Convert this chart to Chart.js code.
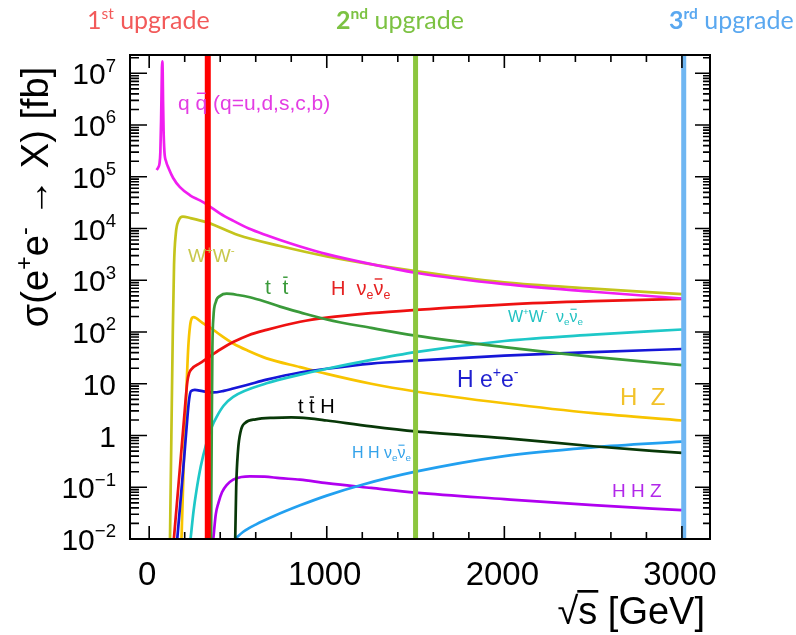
<!DOCTYPE html>
<html>
<head>
<meta charset="utf-8">
<script src="https://cdn.jsdelivr.net/npm/chart.js@4.4.1/dist/chart.umd.min.js"></script>
<style>
  html, body { margin: 0; padding: 0; background: #fff; }
  canvas { display: block; }
</style>
</head>
<body>
<canvas id="xsec" width="796" height="635"></canvas>
<script>
// cross sections sigma(e+e- -> X) in fb against sqrt(s) in GeV
const qqbar = [[42,1.35e5],[50,1.5e5],[58,1.8e5],[63,3e5],[67,1.2e6],[70,5e6],[72,1.3e7],[74,1.7e7],[76,1.1e7],[78,3e6],[81,8e5],[86,3e5],[95,2e5],[110,1.45e5],[135,9.5e4],[173,6.3e4],[230,4.4e4],[286,3.5e4],[330,2.85e4],[400,1.95e4],[472,1.42e4],[561,1.0e4],[661,7.4e3],[737,6.0e3],[850,4.5e3],[1000,3.2e3],[1250,2.05e3],[1500,1.4e3],[2000,840],[2500,600],[3000,445]];
const wwPair = [[116,0.005],[125,1],[133,100],[140,2e3],[150,8e3],[165,1.4e4],[190,1.7e4],[230,1.6e4],[330,1.3e4],[500,7.5e3],[737,4.6e3],[1000,2.9e3],[1500,1.5e3],[2000,910],[2500,690],[3000,540]];
const ttbar = [[348,0.005],[352,1],[356,50],[362,200],[375,380],[400,500],[436,550],[500,520],[567,470],[650,390],[737,310],[850,240],[1000,175],[1250,120],[1500,85],[2000,51],[2500,33],[3000,23]];
const hNuNu = [[139,0.01],[160,0.07],[180,0.45],[200,3],[215,11],[225,16],[240,19.5],[286,25],[342,34],[400,46],[473,64],[560,87],[661,110],[850,158],[1000,190],[1250,232],[1500,268],[2000,340],[2500,395],[3000,435]];
const wwNuNu = [[233,0.01],[250,0.035],[267,0.09],[290,0.25],[323,0.72],[350,1.4],[380,2.3],[420,3.8],[473,5.6],[661,10.2],[850,15],[1000,19.5],[1250,29],[1500,41],[2000,67],[2500,89],[3000,112]];
const hEE = [[158,0.01],[180,0.075],[200,0.5],[215,2.2],[225,5],[235,7.2],[257,7.6],[300,7.2],[361,6.8],[420,7.3],[473,8.1],[560,9.7],[661,12],[850,16.5],[1000,19.5],[1250,24.5],[1500,28],[2000,35],[2500,41],[3000,47]];
const hZ = [[182,0.01],[195,0.3],[210,8],[220,50],[230,130],[240,185],[250,195],[265,185],[300,150],[342,123],[400,88],[473,60],[560,43],[661,31],[850,21],[1000,15.5],[1250,10],[1500,7.1],[2000,4.2],[2500,2.7],[3000,1.95]];
const ttH = [[483,0.005],[490,0.1],[500,0.5],[515,1.2],[540,1.75],[600,2.05],[700,2.2],[800,2.25],[900,2.15],[1000,1.95],[1250,1.5],[1500,1.2],[2000,0.89],[2500,0.62],[3000,0.46]];
const hhNuNu = [[483,0.01],[530,0.0138],[600,0.019],[700,0.0275],[850,0.0447],[1000,0.069],[1200,0.112],[1500,0.2],[2000,0.4],[2500,0.59],[3000,0.76]];
const hhZ = [[361,0.01],[375,0.03],[390,0.05],[410,0.08],[436,0.11],[473,0.14],[520,0.158],[567,0.163],[650,0.16],[736,0.15],[849,0.14],[1000,0.12],[1250,0.097],[1500,0.079],[2000,0.059],[2500,0.045],[3000,0.036]];

const upgradeEnergies = [330, 1500, 3010];
const xTickLabels = [0, 1000, 2000, 3000];
const yDecades = [-2, -1, 0, 1, 2, 3, 4, 5, 6, 7];

const seriesList = [
  { data: qqbar,  color: '#f01ef0' },
  { data: wwPair, color: '#c4c41c' },
  { data: ttbar,  color: '#3a9a3a' },
  { data: hNuNu,  color: '#ee1111' },
  { data: wwNuNu, color: '#1ec8c8' },
  { data: hEE,    color: '#1616d8' },
  { data: hZ,     color: '#f8c400' },
  { data: ttH,    color: '#083808' },
  { data: hhNuNu, color: '#22a0f0' },
  { data: hhZ,    color: '#b000f0' }
];
const upgradeColors = ['#ff0000', '#8cc63e', '#6fb6f2'];

// text labels: parts are [text, mode]; anchor is in data units
const curveLabels = [
  { parts: [['q '], ['q', 'bar'], [' (q=u,d,s,c,b)']], x: 162, y: 1.95e6, color: '#e33de3', size: 21 },
  { parts: [['W'], ['+', 'sup'], ['W'], ['-', 'sup']], x: 218, y: 2.26e3, color: '#c8c84c', size: 19 },
  { parts: [['t  '], ['t', 'bar']], x: 652, y: 543, color: '#3a9a3a', size: 21 },
  { parts: [['H  \u03bd'], ['e', 'sub'], ['\u03bd', 'bar'], ['e', 'sub']], x: 1024, y: 520, color: '#e52222', size: 20 },
  { parts: [['W'], ['+', 'sup'], ['W'], ['-', 'sup'], ['  \u03bd'], ['e', 'sub'], ['\u03bd', 'bar'], ['e', 'sub']], x: 2020, y: 156, color: '#22c2c2', size: 16 },
  { parts: [['H e'], ['+', 'sup'], ['e'], ['-', 'sup']], x: 1733, y: 8.7, color: '#1f1fd0', size: 23 },
  { parts: [['H  Z']], x: 2651, y: 3.9, color: '#f2c22a', size: 24 },
  { parts: [['t '], ['t', 'bar'], [' H']], x: 838, y: 2.72, color: '#000000', size: 20 },
  { parts: [['H H \u03bd'], ['e', 'sub'], ['\u03bd', 'bar'], ['e', 'sub']], x: 1142, y: 0.368, color: '#33a2ea', size: 16 },
  { parts: [['H H Z']], x: 2606, y: 0.0649, color: '#b228ea', size: 19 }
];
const upgradeLabels = [
  { parts: [['1'], ['st', 'sup'], [' upgrade']], px: 87, color: '#f25a5a' },
  { parts: [['2', 'bold'], ['nd', 'sup bold'], [' upgrade']], px: 336, color: '#7cc242' },
  { parts: [['3', 'bold'], ['rd', 'sup bold'], [' upgrade']], px: 669, color: '#5aa8f0' }
];

const FAMILY = '"Liberation Sans", Arial, sans-serif';

function partStyle(mode, size) {
  const m = (mode || '').split(' ');
  const small = m.includes('sup') || m.includes('sub');
  const s = small ? size * 0.62 : size;
  let dy = 0;
  if (m.includes('sup')) dy = -size * 0.42;
  if (m.includes('sub')) dy = size * 0.2;
  return { s, dy, bold: m.includes('bold'), bar: m.includes('bar'), root: m.includes('root') };
}

function richWidth(ctx, parts, size, family) {
  let w = 0;
  parts.forEach(p => {
    const st = partStyle(p[1], size);
    ctx.font = (st.bold ? 'bold ' : '') + st.s + 'px ' + family;
    w += ctx.measureText(p[0]).width;
  });
  return w;
}

function drawRich(ctx, parts, x, y, o) {
  const family = o.family || FAMILY;
  ctx.save();
  ctx.translate(x, y);
  if (o.rotate) ctx.rotate(o.rotate);
  ctx.scale(o.sx || 1, 1);
  ctx.fillStyle = o.color;
  ctx.strokeStyle = o.color;
  ctx.textBaseline = 'alphabetic';
  ctx.textAlign = 'left';
  const w = richWidth(ctx, parts, o.size, family);
  let cx = o.align === 'right' ? -w : o.align === 'center' ? -w / 2 : 0;
  parts.forEach(p => {
    const st = partStyle(p[1], o.size);
    ctx.font = (st.bold ? 'bold ' : '') + st.s + 'px ' + family;
    const tw = ctx.measureText(p[0]).width;
    ctx.fillText(p[0], cx, st.dy);
    if (st.bar || st.root) {
      ctx.lineWidth = Math.max(1, st.s * 0.07);
      const by = st.dy - st.s * (st.root ? 0.86 : 0.8);
      ctx.beginPath();
      ctx.moveTo(cx + (st.root ? -1 : tw * 0.12), by);
      ctx.lineTo(cx + (st.root ? tw + 1 : tw * 0.88), by);
      ctx.stroke();
    }
    cx += tw;
  });
  ctx.restore();
}

const axisArt = {
  id: 'axisArt',
  afterDraw(chart) {
    const ctx = chart.ctx, a = chart.chartArea;
    const xs = chart.scales.x, ys = chart.scales.y;
    ctx.save();
    // frame and inward ticks
    ctx.strokeStyle = '#000';
    ctx.lineWidth = 2;
    ctx.strokeRect(a.left, a.top, a.right - a.left, a.bottom - a.top);
    ctx.lineWidth = 1.6;
    ctx.beginPath();
    for (let v = 0; v <= 3100; v += 200) {
      const px = xs.getPixelForValue(v);
      const len = v % 1000 === 0 ? 13 : 7;
      ctx.moveTo(px, a.bottom); ctx.lineTo(px, a.bottom - len);
      ctx.moveTo(px, a.top); ctx.lineTo(px, a.top + len);
    }
    yDecades.forEach(d => {
      for (let k = 1; k <= 9; k++) {
        const v = k * Math.pow(10, d);
        if (v < ys.min * 0.999 || v > ys.max) continue;
        const py = ys.getPixelForValue(v);
        const major = k === 1;
        ctx.moveTo(a.left, py); ctx.lineTo(a.left + (major ? 17 : 9), py);
        ctx.moveTo(a.right, py); ctx.lineTo(a.right - (major ? 15 : 7), py);
      }
    });
    ctx.stroke();

    // y tick labels
    yDecades.forEach(d => {
      const py = ys.getPixelForValue(Math.pow(10, d));
      let parts;
      if (d === 0) parts = [['1']];
      else if (d === 1) parts = [['10']];
      else parts = [['10'], [String(d).replace('-', '\u2212'), 'sup']];
      drawRich(ctx, parts, 116, py + 11, { size: 30, color: '#000', align: 'right' });
    });
    // x tick labels
    xTickLabels.forEach(v => {
      drawRich(ctx, [[String(v)]], xs.getPixelForValue(v) - 2, 585, { size: 33, color: '#000', align: 'center' });
    });
    // axis titles
    drawRich(ctx, [['\u221a'], ['s', 'root'], [' [GeV]']], 705, 624, { size: 38, color: '#000', align: 'right' });
    drawRich(ctx, [['\u03c3(e'], ['+', 'sup'], ['e'], ['-', 'sup'], [' \u2192 X) [fb]']], 48, 197,
      { size: 38, color: '#000', align: 'center', rotate: -Math.PI / 2 });

    // curve labels
    curveLabels.forEach(l => {
      drawRich(ctx, l.parts, xs.getPixelForValue(l.x), ys.getPixelForValue(l.y), { size: l.size, color: l.color });
    });
    // upgrade labels above the frame
    upgradeLabels.forEach(l => {
      drawRich(ctx, l.parts, l.px, 29, { size: 25, color: l.color, family: 'Lato, "Open Sans", sans-serif' });
    });
    ctx.restore();
  }
};

const datasets = [];
upgradeEnergies.forEach((e, i) => {
  datasets.push({
    data: [{ x: e, y: 0.01 }, { x: e, y: 2.26e7 }],
    borderColor: upgradeColors[i],
    borderWidth: i === 0 ? 6 : 5,
    pointRadius: 0,
    borderCapStyle: 'butt'
  });
});
seriesList.forEach(s => {
  datasets.push({
    data: s.data.map(p => ({ x: p[0], y: p[1] })),
    borderColor: s.color,
    borderWidth: 2.7,
    pointRadius: 0,
    cubicInterpolationMode: 'monotone',
    borderJoinStyle: 'round'
  });
});

const hidden = { display: false, drawTicks: false, tickLength: 0 };

new Chart(document.getElementById('xsec').getContext('2d'), {
  type: 'line',
  data: { datasets },
  options: {
    responsive: false,
    devicePixelRatio: 1,
    animation: false,
    events: [],
    layout: { autoPadding: false, padding: { left: 130, right: 86, top: 55, bottom: 96 } },
    plugins: { legend: { display: false }, tooltip: { enabled: false } },
    scales: {
      x: {
        type: 'linear', min: -108, max: 3158,
        grid: hidden, border: { display: false }, ticks: { display: false }
      },
      y: {
        type: 'logarithmic', min: 0.01, max: 2.26e7,
        grid: hidden, border: { display: false }, ticks: { display: false }
      }
    }
  },
  plugins: [axisArt]
});
</script>
</body>
</html>
